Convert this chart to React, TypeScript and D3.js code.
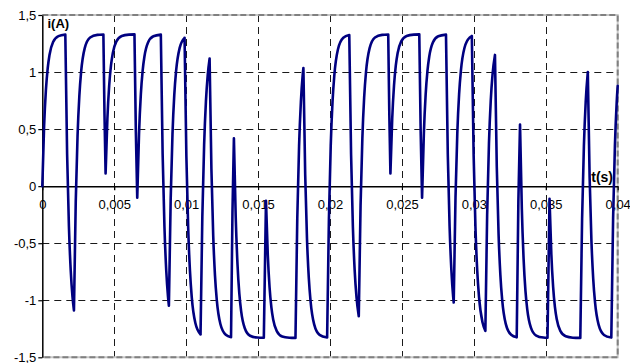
import { useRef, useEffect } from 'react'
import * as d3 from 'd3'

// current trace: time in ms, current in A
const timeMs = [
  0, 0.125, 0.25, 0.375, 0.5, 0.75, 1.125, 1.6,
  1.725, 1.85, 1.975, 2.1, 2.2,
  2.325, 2.45, 2.575, 2.7, 2.95, 3.325, 3.825, 4.247,
  4.3235, 4.4,
  4.525, 4.65, 4.775, 4.9, 5.15, 5.525, 6.025, 6.407,
  6.5035, 6.6,
  6.725, 6.85, 6.975, 7.1, 7.35, 7.725, 8.24,
  8.365, 8.49, 8.615, 8.74, 8.8,
  8.925, 9.05, 9.175, 9.3, 9.55, 9.89,
  10.015, 10.14, 10.265, 10.39, 10.64, 11.0,
  11.125, 11.25, 11.375, 11.5, 11.63,
  11.755, 11.88, 12.005, 12.13, 12.38, 12.755, 13.12,
  13.22, 13.32,
  13.445, 13.57, 13.695, 13.82, 14.07, 14.445, 14.945, 15.4,
  15.55,
  15.675, 15.8, 15.925, 16.05, 16.3, 16.675, 17.175, 17.6,
  17.725, 17.85, 17.975, 18.1, 18.15,
  18.275, 18.4, 18.525, 18.65, 18.9, 19.275, 19.8,
  19.925, 20.05, 20.175, 20.3, 20.55, 20.925, 21.34,
  21.465, 21.59, 21.715, 21.84, 22.0,
  22.125, 22.25, 22.375, 22.5, 22.75, 23.125, 23.625, 24.047,
  24.1235, 24.2,
  24.325, 24.45, 24.575, 24.7, 24.95, 25.325, 25.825, 26.207,
  26.3035, 26.4,
  26.525, 26.65, 26.775, 26.9, 27.15, 27.525, 28.063,
  28.188, 28.313, 28.438, 28.563, 28.6,
  28.725, 28.85, 28.975, 29.1, 29.35, 29.725, 29.86,
  29.985, 30.11, 30.235, 30.36, 30.61, 30.8,
  30.925, 31.05, 31.175, 31.3, 31.468,
  31.593, 31.718, 31.843, 31.968, 32.218, 32.593, 32.98,
  33.095, 33.21,
  33.335, 33.46, 33.585, 33.71, 33.96, 34.335, 34.835, 35.12,
  35.26,
  35.385, 35.51, 35.635, 35.76, 36.01, 36.385, 36.885, 37.4,
  37.525, 37.65, 37.775, 37.922,
  38.047, 38.172, 38.297, 38.422, 38.672, 39.047, 39.556,
  39.681, 39.806, 39.931, 40.0,
]

const current = [
  0, 0.523, 0.841, 1.033, 1.15, 1.264, 1.315, 1.328,
  0.282, -0.352, -0.737, -0.97, -1.089,
  -0.137, 0.44, 0.79, 1.003, 1.21, 1.303, 1.326, 1.329,
  0.628, 0.112,
  0.591, 0.882, 1.058, 1.165, 1.269, 1.316, 1.328, 1.33,
  0.478, -0.101,
  0.462, 0.804, 1.011, 1.136, 1.259, 1.314, 1.328,
  0.282, -0.352, -0.737, -0.97, -1.047,
  -0.112, 0.456, 0.8, 1.008, 1.212, 1.3,
  0.265, -0.362, -0.743, -0.974, -1.199, -1.299,
  -0.265, 0.363, 0.743, 0.974, 1.118,
  0.155, -0.429, -0.784, -0.999, -1.208, -1.303, -1.324,
  -0.225, 0.42,
  -0.269, -0.686, -0.94, -1.093, -1.243, -1.311, -1.327, -1.329,
  -0.129,
  -0.602, -0.888, -1.062, -1.168, -1.27, -1.317, -1.328, -1.33,
  -0.283, 0.351, 0.737, 0.97, 1.035,
  0.104, -0.46, -0.802, -1.01, -1.212, -1.304, -1.327,
  -0.282, 0.353, 0.737, 0.971, 1.198, 1.301, 1.324,
  0.28, -0.354, -0.738, -0.971, -1.14,
  -0.168, 0.421, 0.779, 0.996, 1.207, 1.303, 1.326, 1.329,
  0.628, 0.112,
  0.591, 0.882, 1.058, 1.165, 1.269, 1.316, 1.328, 1.33,
  0.478, -0.101,
  0.462, 0.804, 1.011, 1.136, 1.259, 1.314, 1.328,
  0.282, -0.352, -0.737, -0.97, -1.02,
  -0.095, 0.465, 0.806, 1.012, 1.213, 1.304, 1.315,
  0.274, -0.357, -0.74, -0.972, -1.198, -1.268,
  -0.246, 0.374, 0.75, 0.979, 1.15,
  0.174, -0.418, -0.777, -0.995, -1.207, -1.303, -1.325,
  -0.13, 0.54,
  -0.196, -0.642, -0.913, -1.077, -1.237, -1.309, -1.327, -1.329,
  -0.11,
  -0.59, -0.881, -1.058, -1.165, -1.269, -1.316, -1.328, -1.33,
  -0.283, 0.351, 0.737, 1.0,
  0.083, -0.473, -0.81, -1.015, -1.214, -1.304, -1.327,
  -0.282, 0.353, 0.737, 0.88,
]

const xTicks = [0, 0.005, 0.01, 0.015, 0.02, 0.025, 0.03, 0.035, 0.04]
const yTicks = [-1.5, -1, -0.5, 0, 0.5, 1, 1.5]
const xTitle = 't(s)'
const yTitle = 'i(A)'

const App = () => {
  const chartRef = useRef<SVGSVGElement>(null)

  useEffect(() => {
    if (!chartRef.current) return

    const width = 630
    const height = 363
    const left = 42.3
    const right = 617.7
    const top = 15
    const bottom = 357.3
    const font = 'Arial, "Liberation Sans", sans-serif'

    const svg = d3.select(chartRef.current)
    svg.selectAll('*').remove()
    svg.attr('width', width).attr('height', height)

    const x = d3.scaleLinear().domain([0, 0.04]).range([left, right])
    const y = d3.scaleLinear().domain([-1.5, 1.5]).range([bottom, top])
    const fmt = (v: number) => String(+v.toFixed(3)).replace('.', ',')
    const crisp = (v: number) => Math.round(v) + 0.5

    // dashed grid
    const grid = svg
      .append('g')
      .attr('stroke', '#1a1a1a')
      .attr('stroke-width', 1)
      .attr('stroke-dasharray', '7,5')
    grid
      .selectAll('line.h')
      .data(yTicks.filter((v) => Math.abs(v) < 1.5 && v !== 0))
      .join('line')
      .attr('x1', left)
      .attr('x2', right)
      .attr('y1', (d) => crisp(y(d)))
      .attr('y2', (d) => crisp(y(d)))
    grid
      .selectAll('line.v')
      .data(xTicks.filter((v) => v > 0 && v < 0.04))
      .join('line')
      .attr('x1', (d) => crisp(x(d)))
      .attr('x2', (d) => crisp(x(d)))
      .attr('y1', top)
      .attr('y2', bottom)

    // plot area border (top, right, bottom)
    const border = svg.append('g').attr('fill', 'none')
    const borderPath = `M${left},${top}H${right}V${bottom}H${left}`
    border.append('path').attr('d', borderPath).attr('stroke', '#c8c8c8').attr('stroke-width', 2)
    border
      .append('path')
      .attr('d', borderPath)
      .attr('stroke', '#808080')
      .attr('stroke-width', 2)
      .attr('stroke-dasharray', '6,3')

    // axes
    const xAxis = svg
      .append('g')
      .attr('transform', `translate(0,${y(0)})`)
      .call(
        d3.axisBottom(x).tickValues(xTicks).tickSize(4).tickSizeOuter(0).tickPadding(10).tickFormat((d) => fmt(+d))
      )
    const yAxis = svg
      .append('g')
      .attr('transform', `translate(${left},0)`)
      .call(
        d3.axisLeft(y).tickValues(yTicks).tickSize(4).tickSizeOuter(0).tickPadding(2).tickFormat((d) => fmt(+d))
      )
    for (const ax of [xAxis, yAxis]) {
      ax.select('.domain').attr('stroke', '#000').attr('stroke-width', 1.5)
      ax.selectAll('.tick line').attr('stroke', '#000').attr('stroke-width', 1.2)
      ax.selectAll('.tick text')
        .attr('fill', '#000')
        .style('font-family', font)
        .style('font-size', '13px')
    }

    // current trace, drawn as monotone runs between switching instants
    const pts: [number, number][] = timeMs.map((t, k) => [t / 1000, current[k]])
    const runs: [number, number][][] = []
    let run: [number, number][] = [pts[0]]
    for (let k = 1; k < pts.length; k++) {
      run.push(pts[k])
      const next = pts[k + 1]
      if (next && (pts[k][1] - pts[k - 1][1]) * (next[1] - pts[k][1]) < 0) {
        runs.push(run)
        run = [pts[k]]
      }
    }
    runs.push(run)

    const line = d3
      .line<[number, number]>()
      .x((d) => x(d[0]))
      .y((d) => y(d[1]))
      .curve(d3.curveMonotoneX)

    svg
      .append('path')
      .attr('d', runs.map((r) => line(r)).join(''))
      .attr('fill', 'none')
      .attr('stroke', '#000080')
      .attr('stroke-width', 2.6)
      .attr('stroke-linejoin', 'round')
      .attr('stroke-linecap', 'round')

    // axis titles
    svg
      .append('text')
      .attr('x', 47.5)
      .attr('y', 28)
      .style('font-family', font)
      .style('font-size', '13px')
      .style('font-weight', 'bold')
      .text(yTitle)
    svg
      .append('text')
      .attr('x', 613)
      .attr('y', 182)
      .attr('text-anchor', 'end')
      .style('font-family', font)
      .style('font-size', '14px')
      .style('font-weight', 'bold')
      .text(xTitle)
  }, [])

  return (
    <div style={{ position: 'absolute', left: 0, top: 0 }}>
      <svg ref={chartRef} style={{ display: 'block' }} />
    </div>
  )
}

export default App
